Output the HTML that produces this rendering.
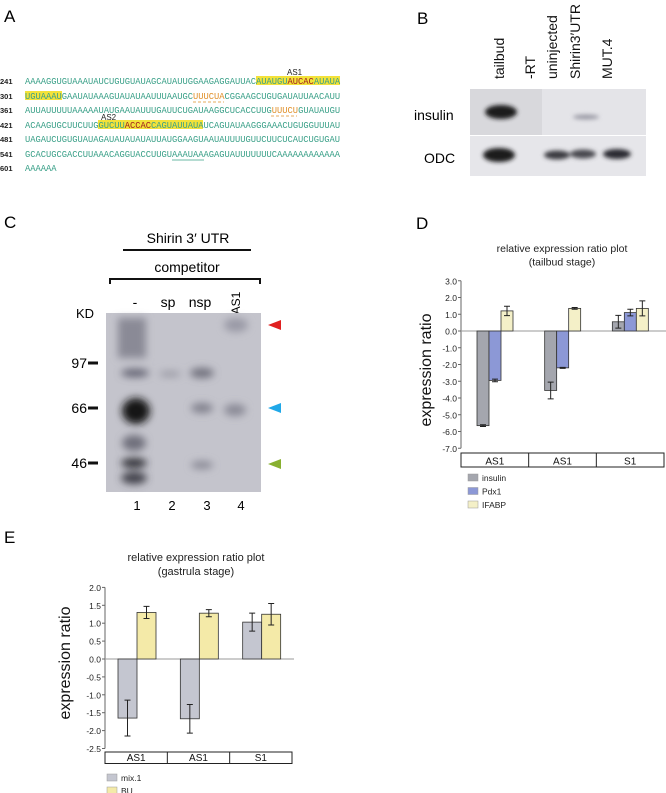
<!DOCTYPE html>
<html><head><meta charset="utf-8">
<style>
html,body{margin:0;padding:0;background:#fff;}
body{width:666px;height:793px;position:relative;overflow:hidden;font-family:"Liberation Sans",sans-serif;}
svg{position:absolute;left:0;top:0;}
</style></head>
<body>
<svg width="666" height="793" viewBox="0 0 666 793" xmlns="http://www.w3.org/2000/svg">
<defs>
<filter id="blur2" x="-50%" y="-50%" width="200%" height="200%"><feGaussianBlur stdDeviation="2.2"/></filter>
<filter id="blur4" x="-50%" y="-50%" width="200%" height="200%"><feGaussianBlur stdDeviation="4"/></filter>
</defs>

<!-- Panel letters -->
<text x="4" y="22" font-size="17">A</text>
<text x="417" y="24" font-size="17">B</text>
<text x="4" y="228" font-size="17">C</text>
<text x="416" y="229" font-size="17">D</text>
<text x="4" y="543" font-size="17">E</text>

<!-- Panel A sequence -->
<g font-family="Liberation Mono, monospace" font-size="8.75">
  <rect x="256" y="76" width="84" height="9" fill="#f3e23a"/>
  <rect x="25" y="91" width="37" height="9" fill="#f3e23a"/>
  <rect x="98" y="120" width="105" height="9" fill="#f3e23a"/>
  <text x="287" y="75" font-family="Liberation Sans,sans-serif" font-size="8" fill="#222">AS1</text>
  <text x="101" y="120" font-family="Liberation Sans,sans-serif" font-size="8" fill="#222">AS2</text>
  <g font-family="Liberation Sans,sans-serif" font-weight="bold" font-size="7.5" fill="#222">
    <text x="0" y="84">241</text><text x="0" y="99">301</text><text x="0" y="113">361</text>
    <text x="0" y="128">421</text><text x="0" y="142">481</text><text x="0" y="157">541</text><text x="0" y="171">601</text>
  </g>
  <g fill="#3aa088">
    <text x="25" y="84">AAAAGGUGUAAAUAUCUGUGUAUAGCAUAUUGGAAGAGGAUUACAUAUGU<tspan fill="#a02020">AUCAC</tspan>AUAUA</text>
    <text x="25" y="99">UGUAAAUGAAUAUAAAGUAUAUAAUUUAAUGC<tspan fill="#e0902a">UUUCUA</tspan>CGGAAGCUGUGAUAUUAACAUU</text>
    <text x="25" y="113">AUUAUUUUUAAAAAUAUGAAUAUUUGAUUCUGAUAAGGCUCACCUUG<tspan fill="#e0902a">UUUCU</tspan>GUAUAUGU</text>
    <text x="25" y="128">ACAAGUGCUUCUUGGUCUU<tspan fill="#a02020">ACCAC</tspan>CAGUAUUAUAUCAGUAUAAGGGAAACUGUGGUUUAU</text>
    <text x="25" y="142">UAGAUCUGUGUAUAGAUAUAUAUAUUAUGGAAGUAAUAUUUUGUUCUUCUCAUCUGUGAU</text>
    <text x="25" y="157">GCACUGCGACCUUAAACAGGUACCUUGUAAAUAAAGAGUAUUUUUUUCAAAAAAAAAAAA</text>
    <text x="25" y="171">AAAAAA</text>
  </g>
  <g stroke="#e0902a" stroke-width="0.8" stroke-dasharray="3,2">
    <line x1="193" y1="102" x2="224" y2="102"/><line x1="271" y1="116" x2="297" y2="116"/>
  </g>
  <line x1="172" y1="160" x2="204" y2="160" stroke="#3aa088" stroke-width="0.8"/>
</g>

<!-- Panel B gel -->
<g>
  <g font-size="14" fill="#111">
    <text transform="translate(504,79) rotate(-90)">tailbud</text>
    <text transform="translate(535,79) rotate(-90)">-RT</text>
    <text transform="translate(557,79) rotate(-90)">uninjected</text>
    <text transform="translate(580,79) rotate(-90)">Shirin3′UTR</text>
    <text transform="translate(612,79) rotate(-90)">MUT.4</text>
  </g>
  <text x="414" y="120" font-size="14">insulin</text>
  <text x="424" y="163" font-size="14">ODC</text>
  <rect x="470" y="89" width="176" height="46" fill="#d8d8dc"/>
  <rect x="542" y="89" width="104" height="46" fill="#e4e4e8"/>
  <rect x="470" y="136" width="176" height="40" fill="#e6e6ea"/>
  <g filter="url(#blur2)">
    <ellipse cx="501" cy="112" rx="16" ry="7" fill="#1a1a1e"/>
    <ellipse cx="586" cy="117" rx="13" ry="2.5" fill="#9a9aa4"/>
    <ellipse cx="499" cy="155" rx="16" ry="7" fill="#1a1a1e"/>
    <ellipse cx="557" cy="155" rx="13" ry="4.5" fill="#3a3a40"/>
    <ellipse cx="583" cy="154" rx="13" ry="4.5" fill="#4a4a50"/>
    <ellipse cx="617" cy="154" rx="14" ry="5" fill="#2a2a30"/>
  </g>
</g>

<!-- Panel C gel -->
<g>
  <text x="188" y="243" font-size="14" text-anchor="middle">Shirin 3′ UTR</text>
  <line x1="123" y1="250" x2="251" y2="250" stroke="#111" stroke-width="2"/>
  <text x="187" y="272" font-size="14" text-anchor="middle">competitor</text>
  <path d="M110,284 V279 H260 V284" fill="none" stroke="#111" stroke-width="2"/>
  <g font-size="14" text-anchor="middle">
    <text x="135" y="307">-</text><text x="168" y="307">sp</text><text x="200" y="307">nsp</text>
    <text transform="translate(240,303) rotate(-90)" text-anchor="middle" font-size="12">AS1</text>
  </g>
  <text x="76" y="318" font-size="13">KD</text>
  <rect x="106" y="313" width="155" height="179" fill="#c4c4cc"/>
  <g filter="url(#blur4)">
    <rect x="118" y="318" width="28" height="40" fill="#8a8a96"/>
    <ellipse cx="135" cy="373" rx="14" ry="4" fill="#606070"/>
    <ellipse cx="136" cy="411" rx="14" ry="13" fill="#141418"/>
    <ellipse cx="134" cy="443" rx="12" ry="8" fill="#70707c"/>
    <ellipse cx="134" cy="463" rx="13" ry="5" fill="#303038"/>
    <ellipse cx="134" cy="478" rx="13" ry="6" fill="#40404a"/>
    <ellipse cx="170" cy="374" rx="11" ry="3" fill="#9a9aa4"/>
    <ellipse cx="202" cy="373" rx="12" ry="5" fill="#70707c"/>
    <ellipse cx="202" cy="408" rx="11" ry="5" fill="#80808c"/>
    <ellipse cx="202" cy="465" rx="11" ry="4" fill="#8a8a96"/>
    <ellipse cx="236" cy="325" rx="12" ry="7" fill="#9a9aa6"/>
    <ellipse cx="235" cy="410" rx="11" ry="6" fill="#8a8a96"/>
  </g>
  <g font-size="14" text-anchor="end">
    <text x="87" y="368">97</text><text x="87" y="413">66</text><text x="87" y="468">46</text>
  </g>
  <g stroke="#111" stroke-width="3">
    <line x1="88" y1="363" x2="98" y2="363"/><line x1="88" y1="408" x2="98" y2="408"/><line x1="88" y1="463" x2="98" y2="463"/>
  </g>
  <polygon points="281,320 268,325 281,330" fill="#e02020"/>
  <polygon points="281,403 268,408 281,413" fill="#20a8e8"/>
  <polygon points="281,459 268,464 281,469" fill="#88b030"/>
  <g font-size="13" text-anchor="middle">
    <text x="137" y="510">1</text><text x="172" y="510">2</text><text x="207" y="510">3</text><text x="241" y="510">4</text>
  </g>
</g>

<g id="chartD"></g>
<g id="chartE"></g>
</svg>

<script>
var NS='http://www.w3.org/2000/svg';
// Panel D data
var dCategories=['AS1','AS1','S1'];
var dSeries=['insulin','Pdx1','IFABP'];
var dInsulin=[-5.65,-3.55,0.55];
var dPdx1=[-2.95,-2.2,1.1];
var dIFABP=[1.2,1.35,1.35];
var dInsulinErr=[0.05,0.5,0.38];
var dPdx1Err=[0.08,0.03,0.2];
var dIFABPErr=[0.28,0.05,0.45];
var dTicks=[3,2,1,0,-1,-2,-3,-4,-5,-6,-7];
var dTickLabels=['3.0','2.0','1.0','0.0','-1.0','-2.0','-3.0','-4.0','-5.0','-6.0','-7.0'];
// Panel E data
var eCategories=['AS1','AS1','S1'];
var eSeries=['mix.1','BU'];
var eMix=[-1.65,-1.67,1.03];
var eBU=[1.3,1.28,1.25];
var eMixErr=[0.5,0.4,0.25];
var eBUErr=[0.17,0.1,0.3];
var eTicks=[2,1.5,1,0.5,0,-0.5,-1,-1.5,-2,-2.5];
var eTickLabels=['2.0','1.5','1.0','0.5','0.0','-0.5','-1.0','-1.5','-2.0','-2.5'];

function mk(parent,tag,attrs,text){var e=document.createElementNS(NS,tag);for(var k in attrs)e.setAttribute(k,attrs[k]);if(text!==undefined)e.textContent=text;parent.appendChild(e);return e;}

function drawChart(g,cfg){
  function y(v){return cfg.y0-(v)*cfg.ppu;}
  var t1=mk(g,'text',{x:cfg.titleX,y:cfg.titleY,'font-size':cfg.titleSize,'text-anchor':'middle',fill:'#222'},cfg.title1);
  
  
  var t2=mk(g,'text',{x:cfg.titleX,y:cfg.titleY+cfg.titleSize+3,'font-size':cfg.titleSize,'text-anchor':'middle',fill:'#222'},cfg.title2);
  
  
  var yl=mk(g,'text',{transform:'translate('+cfg.ylabX+','+cfg.ylabY+') rotate(-90)','font-size':cfg.ylabSize,'text-anchor':'middle',fill:'#111'},'expression ratio');
  
  
  var top=y(cfg.ticks[0]),bot=y(cfg.ticks[cfg.ticks.length-1]);
  var ax=mk(g,'line',{x1:cfg.ax,y1:top,x2:cfg.ax,y2:bot,stroke:'#666','stroke-width':1});
  
  
  cfg.ticks.forEach(function(v,i){
    mk(g,'line',{x1:cfg.ax-3,y1:y(v),x2:cfg.ax,y2:y(v),stroke:'#666'});
    var tl=mk(g,'text',{x:cfg.ax-4,y:y(v)+3.5,'font-size':cfg.tickSize,'text-anchor':'end',fill:'#222'},cfg.tickLabels[i]);
    
    
  });
  var zl=mk(g,'line',{x1:cfg.ax,y1:y(0),x2:cfg.boxR+2,y2:y(0),stroke:'#999','stroke-width':1});
  
  
  var gw=(cfg.boxR-cfg.ax)/cfg.cats.length;
  cfg.cats.forEach(function(c,ci){
    cfg.series.forEach(function(s,si){
      var v=s.vals[ci],x=cfg.ax+ci*gw+cfg.off+si*cfg.bw;
      var r=mk(g,'rect',{x:x,y:Math.min(y(0),y(v)),width:cfg.bw,height:Math.abs(y(v)-y(0)),fill:s.color,stroke:'#333','stroke-width':0.8});
      
      
      var e=s.err[ci],cx=x+cfg.bw/2;
      var eb=mk(g,'path',{d:'M'+cx+','+y(v+e)+'V'+y(v-e)+'M'+(cx-3)+','+y(v+e)+'h6M'+(cx-3)+','+y(v-e)+'h6',stroke:'#222','stroke-width':1,fill:'none'});
      
      
    });
  });
  var b=mk(g,'rect',{x:cfg.ax,y:cfg.boxY,width:cfg.boxR-cfg.ax,height:cfg.boxH,fill:'#fff',stroke:'#222','stroke-width':1});
  
  
  cfg.cats.forEach(function(c,ci){
    if(ci>0)mk(g,'line',{x1:cfg.ax+ci*gw,y1:cfg.boxY,x2:cfg.ax+ci*gw,y2:cfg.boxY+cfg.boxH,stroke:'#222'});
    var ct=mk(g,'text',{x:cfg.ax+ci*gw+gw/2,y:cfg.boxY+cfg.boxH-2.5,'font-size':cfg.catSize,'text-anchor':'middle',fill:'#111'},c);
    
    
  });
  cfg.series.forEach(function(s,si){
    var ly=cfg.legY+si*cfg.legDy;
    var sw=mk(g,'rect',{x:cfg.legX,y:ly,width:10,height:7,fill:s.color,stroke:'#999','stroke-width':0.5});
    
    
    var lt=mk(g,'text',{x:cfg.legX+14,y:ly+7,'font-size':cfg.legSize,fill:'#222'},s.name);
    
    
  });
}

drawChart(document.getElementById('chartD'),{
  y0:331,ppu:16.75,ax:461,boxR:664,boxY:453,boxH:14,off:16,bw:12,
  ticks:dTicks,tickLabels:dTickLabels,cats:dCategories,
  series:[{name:dSeries[0],vals:dInsulin,err:dInsulinErr,color:'#a4a6ae'},
          {name:dSeries[1],vals:dPdx1,err:dPdx1Err,color:'#8c98d6'},
          {name:dSeries[2],vals:dIFABP,err:dIFABPErr,color:'#f4f0c8'}],
  title1:'relative expression ratio plot',title2:'(tailbud stage)',titleX:562,titleY:252,titleSize:10.5,
  ylabX:431,ylabY:370,ylabSize:16,tickSize:8.5,catSize:10,legX:468,legY:474,legDy:13.5,legSize:8.5
});
drawChart(document.getElementById('chartE'),{
  y0:659,ppu:35.8,ax:105,boxR:292,boxY:752,boxH:11.5,off:13,bw:19,
  ticks:eTicks,tickLabels:eTickLabels,cats:eCategories,
  series:[{name:eSeries[0],vals:eMix,err:eMixErr,color:'#c4c6d0'},
          {name:eSeries[1],vals:eBU,err:eBUErr,color:'#f4eaa8'}],
  title1:'relative expression ratio plot',title2:'(gastrula stage)',titleX:196,titleY:561,titleSize:11,
  ylabX:70,ylabY:663,ylabSize:16,tickSize:8.5,catSize:10,legX:107,legY:774,legDy:13,legSize:8.5
});
</script>
</body></html>
